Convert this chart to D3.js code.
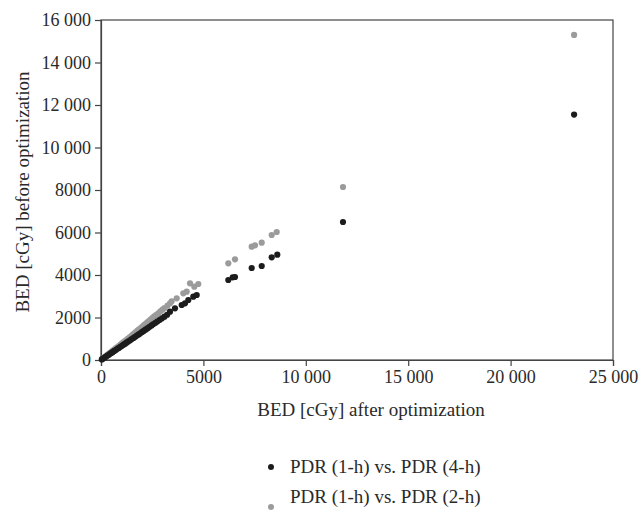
<!DOCTYPE html>
<html><head><meta charset="utf-8">
<script src="https://cdn.jsdelivr.net/npm/d3@7"></script>
<style>body{margin:0;background:#fff}svg{display:block}text{font-family:"Liberation Serif","Times New Roman",serif;fill:#2a2a2a}</style>
</head><body><svg id="c" width="644" height="514"></svg>
<script>
const xTicks = [0, 5000, 10000, 15000, 20000, 25000];
const yTicks = [0, 2000, 4000, 6000, 8000, 10000, 12000, 14000, 16000];
const seriesNames = ["PDR (1-h) vs. PDR (4-h)", "PDR (1-h) vs. PDR (2-h)"];
const seriesColors = ["#1c1c1c", "#9b9b9b"];
// PDR (1-h) vs. PDR (2-h)
const xGray = [60,120,180,250,310,380,440,520,590,660,730,800,880,950,1020,1100,1170,1250,1320,1400,1480,1550,1630,1700,1780,1860,1940,2020,2100,2180,2260,2350,2430,2520,2600,2700,2800,2900,3000,3100,3250,3370,3450,3696,4019,4184,4346,4556,4751,6216,6543,7358,7520,7847,8335,8579,11816,23100];
const yGray = [50,95,140,190,240,290,335,400,450,500,560,610,670,720,780,840,890,950,1010,1070,1130,1190,1250,1310,1380,1440,1500,1570,1640,1700,1770,1840,1910,1980,2060,2130,2200,2290,2370,2440,2560,2670,2760,2904,3139,3214,3609,3449,3576,4551,4739,5332,5398,5520,5882,6024,8141,15300];
// PDR (1-h) vs. PDR (4-h)
const xBlack = [40,100,170,230,300,370,440,510,580,650,720,800,870,950,1020,1100,1180,1260,1340,1420,1500,1590,1670,1750,1840,1920,2010,2100,2190,2280,2370,2470,2560,2660,2760,2870,2980,3100,3230,3369,3613,3940,4102,4263,4507,4673,6216,6431,6543,7358,7847,8335,8608,11816,23100];
const yBlack = [25,65,110,150,195,240,290,335,380,425,470,525,570,620,670,720,770,825,880,930,985,1040,1095,1150,1205,1260,1320,1380,1440,1500,1560,1625,1690,1750,1820,1890,1960,2040,2130,2273,2433,2588,2668,2824,2979,3059,3765,3892,3906,4329,4424,4833,4955,6494,11550];

const svg = d3.select("#c");
const x = d3.scaleLinear().domain([0, 25000]).range([101, 613]);
const y = d3.scaleLinear().domain([0, 16000]).range([360, 20]);
const fmt = v => v >= 10000 ? d3.format(",")(v).replace(/,/g, " ") : String(v);
const axisColor = "#444";

svg.append("rect").attr("x", 101).attr("y", 20).attr("width", 512).attr("height", 340)
  .attr("fill", "none").attr("stroke", axisColor).attr("stroke-width", 1.2);

const gx = svg.append("g").attr("transform", "translate(0,360)")
  .call(d3.axisBottom(x).tickValues(xTicks).tickFormat(fmt).tickSize(6).tickPadding(4));
const gy = svg.append("g").attr("transform", "translate(101,0)")
  .call(d3.axisLeft(y).tickValues(yTicks).tickFormat(fmt).tickSize(6).tickPadding(4));
[gx, gy].forEach(g => {
  g.attr("font-family", null);
  g.select(".domain").attr("stroke", axisColor).attr("stroke-width", 1.2);
  g.selectAll(".tick line").attr("stroke", axisColor).attr("stroke-width", 1.2);
  g.selectAll(".tick text").attr("font-size", 18).attr("fill", "#2a2a2a")
    .style("font-family", '"Liberation Serif", serif');
});

svg.append("g").selectAll("circle").data(d3.range(xGray.length)).join("circle")
  .attr("cx", i => x(xGray[i])).attr("cy", i => y(yGray[i])).attr("r", 3.1).attr("fill", seriesColors[1]);
svg.append("g").selectAll("circle").data(d3.range(xBlack.length)).join("circle")
  .attr("cx", i => x(xBlack[i])).attr("cy", i => y(yBlack[i])).attr("r", 3.1).attr("fill", seriesColors[0]);

svg.append("text").attr("x", 371).attr("y", 416).attr("text-anchor", "middle")
  .attr("font-size", 19).text("BED [cGy] after optimization");
svg.append("text").attr("transform", "translate(29,192) rotate(-90)").attr("text-anchor", "middle")
  .attr("font-size", 19).text("BED [cGy] before optimization");

const leg = [{dy: 467, ty: 473}, {dy: 507, ty: 503}];
seriesNames.forEach((n, i) => {
  svg.append("circle").attr("cx", 271).attr("cy", leg[i].dy).attr("r", 3).attr("fill", seriesColors[i]);
  svg.append("text").attr("x", 290).attr("y", leg[i].ty).attr("font-size", 19).text(n);
});
</script></body></html>
